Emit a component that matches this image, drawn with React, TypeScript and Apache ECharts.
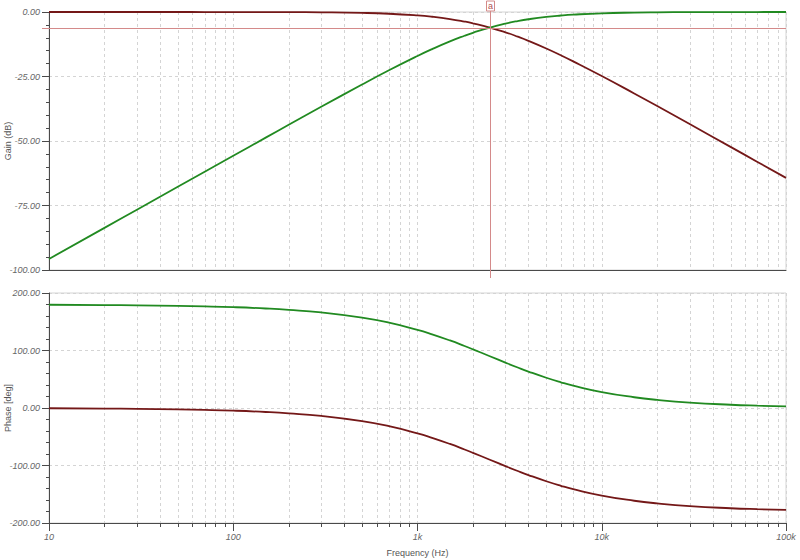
import React, { useEffect, useRef } from "react";
import * as echarts from "echarts";

const freqs = [10, 20, 30, 50, 70, 100, 150, 200, 300, 500, 700, 1000, 1200, 1500, 1800, 2000, 2470, 3000, 3500, 4000, 5000, 6000, 7000, 10000, 15000, 20000, 30000, 50000, 70000, 100000];
const lowGain = [0, 0, 0, 0, -0.01, -0.01, -0.03, -0.06, -0.13, -0.35, -0.67, -1.32, -1.84, -2.73, -3.7, -4.38, -6.02, -7.87, -9.57, -11.18, -14.15, -16.78, -19.12, -24.81, -31.57, -36.46, -43.44, -52.27, -58.11, -64.3];
const highGain = [-95.71, -83.67, -76.62, -67.75, -61.91, -55.72, -48.7, -43.72, -36.75, -28.1, -22.58, -17.03, -14.38, -11.39, -9.2, -8.05, -6.02, -4.5, -3.51, -2.81, -1.9, -1.36, -1.02, -0.51, -0.23, -0.13, -0.06, -0.02, -0.01, 0];
const lowPhase = [-0.46, -0.93, -1.39, -2.32, -3.25, -4.64, -6.95, -9.26, -13.85, -22.89, -31.65, -44.07, -51.83, -62.53, -72.16, -78.0, -90, -101.06, -109.58, -116.6, -127.4, -135.24, -141.1, -152.25, -161.3, -165.92, -170.59, -174.34, -175.96, -177.17];
const highPhase = [179.54, 179.07, 178.61, 177.68, 176.75, 175.36, 173.05, 170.74, 166.15, 157.11, 148.35, 135.93, 128.17, 117.47, 107.84, 102.0, 90, 78.94, 70.42, 63.4, 52.6, 44.76, 38.9, 27.75, 18.7, 14.08, 9.41, 5.66, 4.04, 2.83];
const minorFreqs = [20, 30, 40, 50, 60, 70, 80, 90, 200, 300, 400, 500, 600, 700, 800, 900, 2000, 3000, 4000, 5000, 6000, 7000, 8000, 9000, 20000, 30000, 40000, 50000, 60000, 70000, 80000, 90000];
const cursorFreq = 2470;
const cursorGain = -6.02;
const xTickLabels: Record<number, string> = { 10: "10", 100: "100", 1000: "1k", 10000: "10k", 100000: "100k" };

const RED = "#741818";
const GREEN = "#218a21";
const CURSOR = "#d48a8a";
const GRIDC = "#d4d4d4";
const AXIS = "#4a4a4a";
const LABEL = "#666";

function pairs(ys: number[]) {
  return freqs.map((f, i) => [f, ys[i]]);
}

export default function App() {
  const ref = useRef<HTMLDivElement>(null);
  useEffect(() => {
    if (!ref.current) return;
    const chart = echarts.init(ref.current, null, { renderer: "svg" });
    const labelStyle = { color: LABEL, fontSize: 9, fontStyle: "italic" as const, fontFamily: "Liberation Sans, Arial, sans-serif" };
    const nameStyle = { color: "#555", fontSize: 9, fontFamily: "Liberation Sans, Arial, sans-serif" };

    const minorGridSeries = (idx: number, ticks: boolean) => ({
      type: "custom",
      xAxisIndex: idx,
      yAxisIndex: idx,
      silent: true,
      clip: false,
      z: 1,
      data: minorFreqs.map((f) => [f]),
      encode: { x: 0 },
      renderItem: (params: any, api: any) => {
        const cs = params.coordSys;
        const x = Math.round(api.coord([api.value(0), 0])[0]) + 0.5;
        const children: any[] = [
          {
            type: "line",
            shape: { x1: x, y1: cs.y, x2: x, y2: cs.y + cs.height },
            style: { stroke: GRIDC, lineWidth: 1, lineDash: [3, 3] },
          },
        ];
        if (ticks) {
          children.push({
            type: "line",
            shape: { x1: x, y1: cs.y + cs.height, x2: x, y2: cs.y + cs.height + 4 },
            style: { stroke: AXIS, lineWidth: 1 },
          });
        }
        return { type: "group", children };
      },
    });

    const xAxisBase = {
      type: "log",
      logBase: 10,
      min: 10,
      max: 100000,
      axisLine: { show: true, onZero: false, lineStyle: { color: AXIS, width: 1 } },
      splitLine: { show: true, lineStyle: { color: GRIDC, type: [3, 3] } },
    };

    const yAxisBase = {
      type: "value",
      axisLine: { show: true, onZero: false, lineStyle: { color: AXIS } },
      axisTick: { show: true, length: 7, lineStyle: { color: AXIS } },
      minorTick: { show: true, splitNumber: 5, length: 3, lineStyle: { color: AXIS } },
      axisLabel: { ...labelStyle, margin: 9, formatter: (v: number) => v.toFixed(2) },
      splitLine: { show: true, lineStyle: { color: GRIDC, type: [3, 3] } },
      nameLocation: "middle",
      nameRotate: 90,
      nameGap: 37,
      nameMoveOverlap: false,
      nameTextStyle: nameStyle,
    };

    const option: any = {
      animation: false,
      backgroundColor: "#fff",
      grid: [
        { left: 49, top: 12, width: 737, height: 258, show: true, borderColor: GRIDC, borderWidth: 1, containLabel: false, outerBoundsMode: "none" },
        { left: 49, top: 293, width: 737, height: 230, show: true, borderColor: GRIDC, borderWidth: 1, containLabel: false, outerBoundsMode: "none" },
      ],
      xAxis: [
        {
          ...xAxisBase,
          gridIndex: 0,
          axisTick: { show: false },
          axisLabel: { show: false },
        },
        {
          ...xAxisBase,
          gridIndex: 1,
          axisTick: { show: true, length: 8, lineStyle: { color: AXIS } },
          axisLabel: {
            ...labelStyle,
            margin: 9,
            formatter: (v: number) => xTickLabels[Math.round(v)] ?? "",
          },
          name: "Frequency (Hz)",
          nameLocation: "middle",
          nameGap: 25,
          nameMoveOverlap: false,
          nameTextStyle: nameStyle,
        },
      ],
      yAxis: [
        { ...yAxisBase, gridIndex: 0, min: -100, max: 0, interval: 25, name: "Gain (dB)" },
        { ...yAxisBase, gridIndex: 1, min: -200, max: 200, interval: 100, name: "Phase [deg]" },
      ],
      series: [
        minorGridSeries(0, false),
        minorGridSeries(1, true),
        {
          type: "line", name: "lowGain", xAxisIndex: 0, yAxisIndex: 0, data: pairs(lowGain),
          showSymbol: false, smooth: true, z: 3, lineStyle: { color: RED, width: 1.8 }, itemStyle: { color: RED },
        },
        {
          type: "line", name: "highGain", xAxisIndex: 0, yAxisIndex: 0, data: pairs(highGain),
          showSymbol: false, smooth: true, z: 3, lineStyle: { color: GREEN, width: 1.8 }, itemStyle: { color: GREEN },
        },
        {
          type: "line", name: "highPhase", xAxisIndex: 1, yAxisIndex: 1, data: pairs(highPhase),
          showSymbol: false, smooth: true, z: 3, lineStyle: { color: GREEN, width: 1.8 }, itemStyle: { color: GREEN },
        },
        {
          type: "line", name: "lowPhase", xAxisIndex: 1, yAxisIndex: 1, data: pairs(lowPhase),
          showSymbol: false, smooth: true, z: 3, lineStyle: { color: RED, width: 1.8 }, itemStyle: { color: RED },
        },
        {
          type: "custom",
          xAxisIndex: 0,
          yAxisIndex: 0,
          silent: true,
          clip: false,
          z: 5,
          data: [[cursorFreq, cursorGain]],
          encode: { x: 0, y: 1 },
          renderItem: (params: any, api: any) => {
            const cs = params.coordSys;
            const p = api.coord([api.value(0), api.value(1)]);
            const x = Math.round(p[0]) + 0.5;
            const y = Math.round(p[1]) + 0.5;
            return {
              type: "group",
              children: [
                { type: "line", shape: { x1: cs.x - 7, y1: y, x2: cs.x + cs.width, y2: y }, style: { stroke: CURSOR, lineWidth: 1 } },
                { type: "line", shape: { x1: x, y1: cs.y - 1, x2: x, y2: cs.y + cs.height + 8 }, style: { stroke: CURSOR, lineWidth: 1 } },
                { type: "rect", shape: { x: x - 4, y: cs.y - 11, width: 8, height: 10 }, style: { fill: "#fff", stroke: CURSOR, lineWidth: 1 } },
                {
                  type: "text",
                  style: {
                    text: "a", x: x, y: cs.y - 6, align: "center", verticalAlign: "middle",
                    fill: "#b05050", fontSize: 9, fontFamily: "Liberation Sans, Arial, sans-serif",
                  },
                },
              ],
            };
          },
        },
      ],
    };
    chart.setOption(option);
    return () => chart.dispose();
  }, []);
  return <div ref={ref} style={{ position: "absolute", left: 0, top: 0, width: 800, height: 560 }} />;
}
